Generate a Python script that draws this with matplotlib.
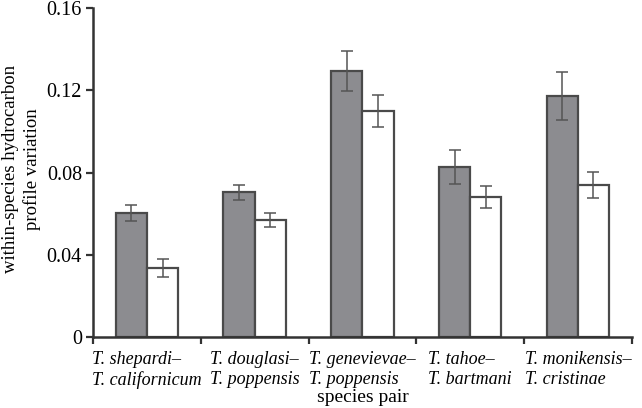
import matplotlib.pyplot as plt
import numpy as np

plt.rcParams['font.family'] = ['Liberation Serif', 'DejaVu Serif']

pairs = ['T. shepardi–\nT. californicum', 'T. douglasi–\nT. poppensis',
         'T. genevievae–\nT. poppensis', 'T. tahoe–\nT. bartmani',
         'T. monikensis–\nT. cristinae']
gray_vals = [0.0603, 0.0705, 0.1295, 0.0828, 0.1172]
gray_err = [0.0040, 0.0036, 0.0098, 0.0084, 0.0116]
white_vals = [0.0336, 0.0569, 0.1099, 0.0682, 0.0738]
white_err = [0.0044, 0.0034, 0.0079, 0.0055, 0.0063]

edge = '#4a4a4a'
x = np.arange(len(pairs)) + 0.5
w = 0.29

fig = plt.figure(figsize=(6.42, 4.08), dpi=100)
ax = fig.add_axes([0.145, 0.174, 0.839, 0.806])

ekw = dict(ecolor='#555555', elinewidth=1.1, capsize=4, capthick=1.1)
ax.bar(x - w / 2, gray_vals, w, yerr=gray_err, color='#8c8c90', edgecolor=edge,
       linewidth=1.6, error_kw=ekw, zorder=2)
ax.bar(x + w / 2, white_vals, w, yerr=white_err, color='white', edgecolor=edge,
       linewidth=1.6, error_kw=ekw, zorder=2)

ax.set_xlim(0, len(pairs))
ax.set_ylim(0, 0.16)
ax.set_yticks([0, 0.04, 0.08, 0.12, 0.16])
ax.set_yticklabels(['0', '0.04', '0.08', '0.12', '0.16'], fontsize=14.5)
ax.set_xticks(x)
ax.set_xticklabels(pairs, fontsize=13, style='italic', ma='left', linespacing=1.25)
ax.set_xticks(np.arange(len(pairs) + 1), minor=True)
ax.tick_params(axis='x', which='major', length=0, pad=10)
ax.tick_params(axis='x', which='minor', length=5, width=1.6, color='#333333')
ax.tick_params(axis='y', length=5, width=1.6, color='#333333', pad=3)

for s in ['top', 'right']:
    ax.spines[s].set_visible(False)
for s in ['left', 'bottom']:
    ax.spines[s].set_linewidth(1.8)
    ax.spines[s].set_color('#333333')

ax.set_ylabel('within-species hydrocarbon\nprofile variation', fontsize=13.5,
              linespacing=1.3)
ax.yaxis.set_label_coords(-0.096, 0.51)
ax.set_xlabel('species pair', fontsize=14, labelpad=0)

fig.savefig('out.png', dpi=100, facecolor='white')
